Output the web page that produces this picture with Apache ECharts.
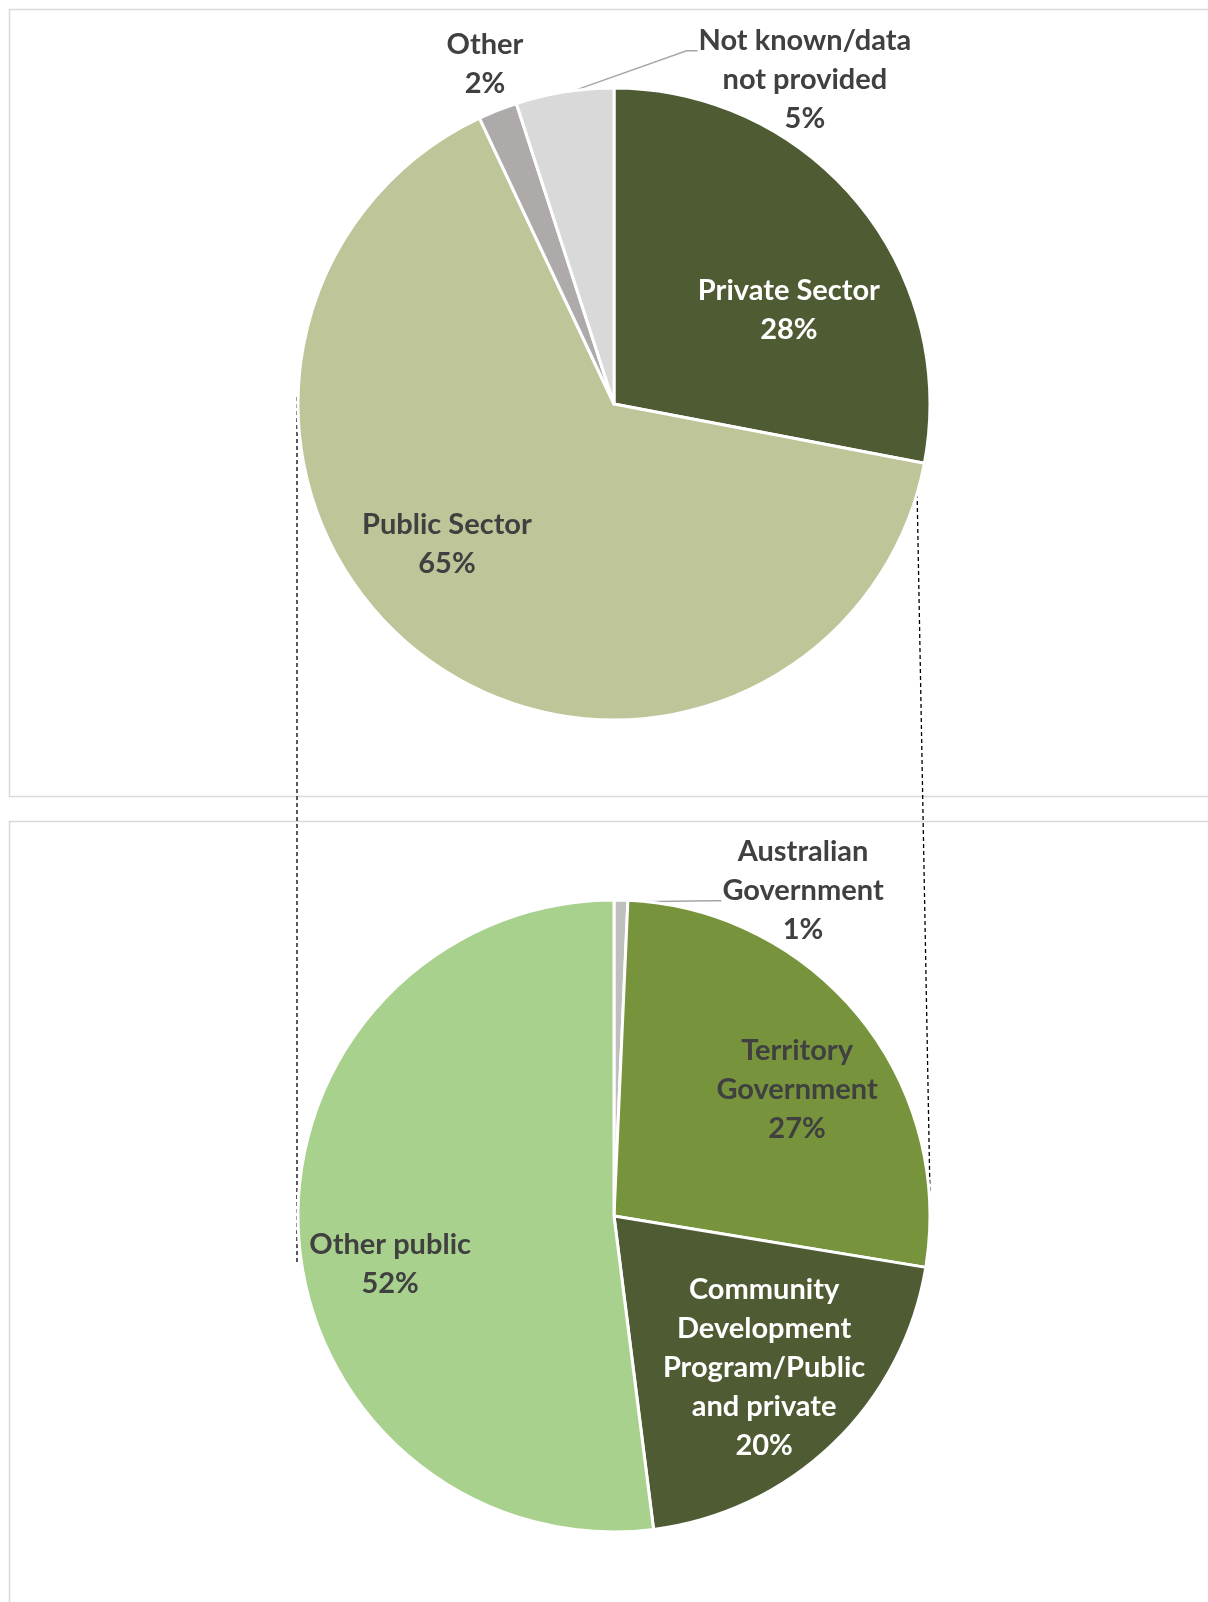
<!DOCTYPE html>
<html>
<head>
<meta charset="utf-8">
<script src="https://cdn.jsdelivr.net/npm/echarts@6/dist/echarts.min.js"></script>
<style>
html,body{margin:0;padding:0;background:#ffffff;}
#c{width:1208px;height:1602px;}
</style>
</head>
<body>
<div id="c"></div>
<script>
// ---- Data ----
const topNames = ['Private Sector', 'Public Sector', 'Other', 'Not known/data\nnot provided'];
const topValues = [28, 65, 2, 5];
const bottomNames = ['Australian\nGovernment', 'Territory\nGovernment', 'Community\nDevelopment\nProgram/Public\nand private', 'Other public'];
const bottomValues = [0.7, 26.9, 20.4, 52.0];

// ---- Styles / layout (kept separate from data) ----
const topColors = ['#4f5b33', '#bdc599', '#aeaaaa', '#d9d9d9'];
const bottomColors = ['#bfbfbf', '#77933c', '#4f5b33', '#a9d18e'];
const topTextColors = ['#ffffff', '#404040', '#404040', '#404040'];
const bottomTextColors = ['#404040', '#404040', '#ffffff', '#404040'];
// label anchors relative to pie centre, in units of radius
const topAnchors = [[0.557, -0.299], [-0.532, 0.446], [-0.411, -1.083], [0.608, -1.032]];
const bottomAnchors = [[0.602, -1.035], [0.583, -0.404], [0.478, 0.484], [-0.713, 0.153]];
// which text line a leader line attaches to (null = no leader)
const topLeaders = [null, null, null, 0];
const bottomLeaders = [1, null, null, null];

const R = 314;
const OUTER = 316;
const TOP_C = [614, 404];
const BOT_C = [614, 1216];
const LH = 39;
const FONT = 'Lato';

function makeLayout(c, anchors, values, leaders) {
  const total = values.reduce((a, b) => a + b, 0);
  return function (p) {
    const i = p.dataIndex;
    const a = anchors[i];
    const x = c[0] + a[0] * R;
    const y = c[1] + a[1] * R;
    const out = { x: x, y: y, align: 'center', verticalAlign: 'middle' };
    if (leaders[i] != null) {
      let cum = 0;
      for (let k = 0; k < i; k++) cum += values[k];
      const ang = (cum + values[i] / 2) / total * 2 * Math.PI;
      const px = c[0] + R * Math.sin(ang);
      const py = c[1] - R * Math.cos(ang);
      const left = x - p.labelRect.width / 2;
      const top = y - p.labelRect.height / 2;
      const ya = top + LH * (leaders[i] + 0.75);
      out.labelLinePoints = [[px, py], [left - 12, ya], [left - 1, ya]];
    }
    return out;
  };
}

function buildData(names, values, colors, textColors, leaders) {
  const total = values.reduce((a, b) => a + b, 0);
  return names.map((n, i) => ({
    name: n,
    value: values[i],
    itemStyle: { color: colors[i] },
    label: { color: textColors[i], position: (leaders[i] != null || values[i] / total < 0.03) ? 'outside' : 'inside' },
    labelLine: { show: leaders[i] != null, lineStyle: { color: '#a6a6a6', width: 1.5 } }
  }));
}

function pieSeries(c, names, values, colors, textColors, anchors, leaders) {
  return {
    type: 'pie',
    center: c,
    radius: OUTER,
    startAngle: 90,
    clockwise: true,
    avoidLabelOverlap: false,
    animation: false,
    silent: true,
    itemStyle: { borderColor: '#ffffff', borderWidth: 3 },
    label: {
      show: true,
      position: 'inside',
      fontFamily: FONT,
      fontWeight: 'bold',
      fontSize: 29,
      lineHeight: LH,
      align: 'center',
      formatter: function (p) { return p.name + '\n' + Math.round(p.percent) + '%'; }
    },
    labelLine: { show: false },
    labelLayout: makeLayout(c, anchors, values, leaders),
    data: buildData(names, values, colors, textColors, leaders)
  };
}

const chart = echarts.init(document.getElementById('c'), null, { renderer: 'canvas' });
chart.setOption({
  backgroundColor: '#ffffff',
  animation: false,
  graphic: [
    { type: 'rect', z: 0, shape: { x: 9.5, y: 9.5, width: 1300, height: 787 }, style: { fill: 'none', stroke: '#d9d9d9', lineWidth: 1.5 } },
    { type: 'rect', z: 0, shape: { x: 9.5, y: 821.5, width: 1300, height: 900 }, style: { fill: 'none', stroke: '#d9d9d9', lineWidth: 1.5 } },
    { type: 'line', z: 0, shape: { x1: 297, y1: 397, x2: 297, y2: 1263 }, style: { stroke: '#000000', lineWidth: 1.3, lineDash: [4, 3] } },
    { type: 'line', z: 0, shape: { x1: 917, y1: 487, x2: 930, y2: 1194 }, style: { stroke: '#000000', lineWidth: 1.3, lineDash: [4, 3] } }
  ],
  series: [
    pieSeries(TOP_C, topNames, topValues, topColors, topTextColors, topAnchors, topLeaders),
    pieSeries(BOT_C, bottomNames, bottomValues, bottomColors, bottomTextColors, bottomAnchors, bottomLeaders)
  ]
});
</script>
</body>
</html>
